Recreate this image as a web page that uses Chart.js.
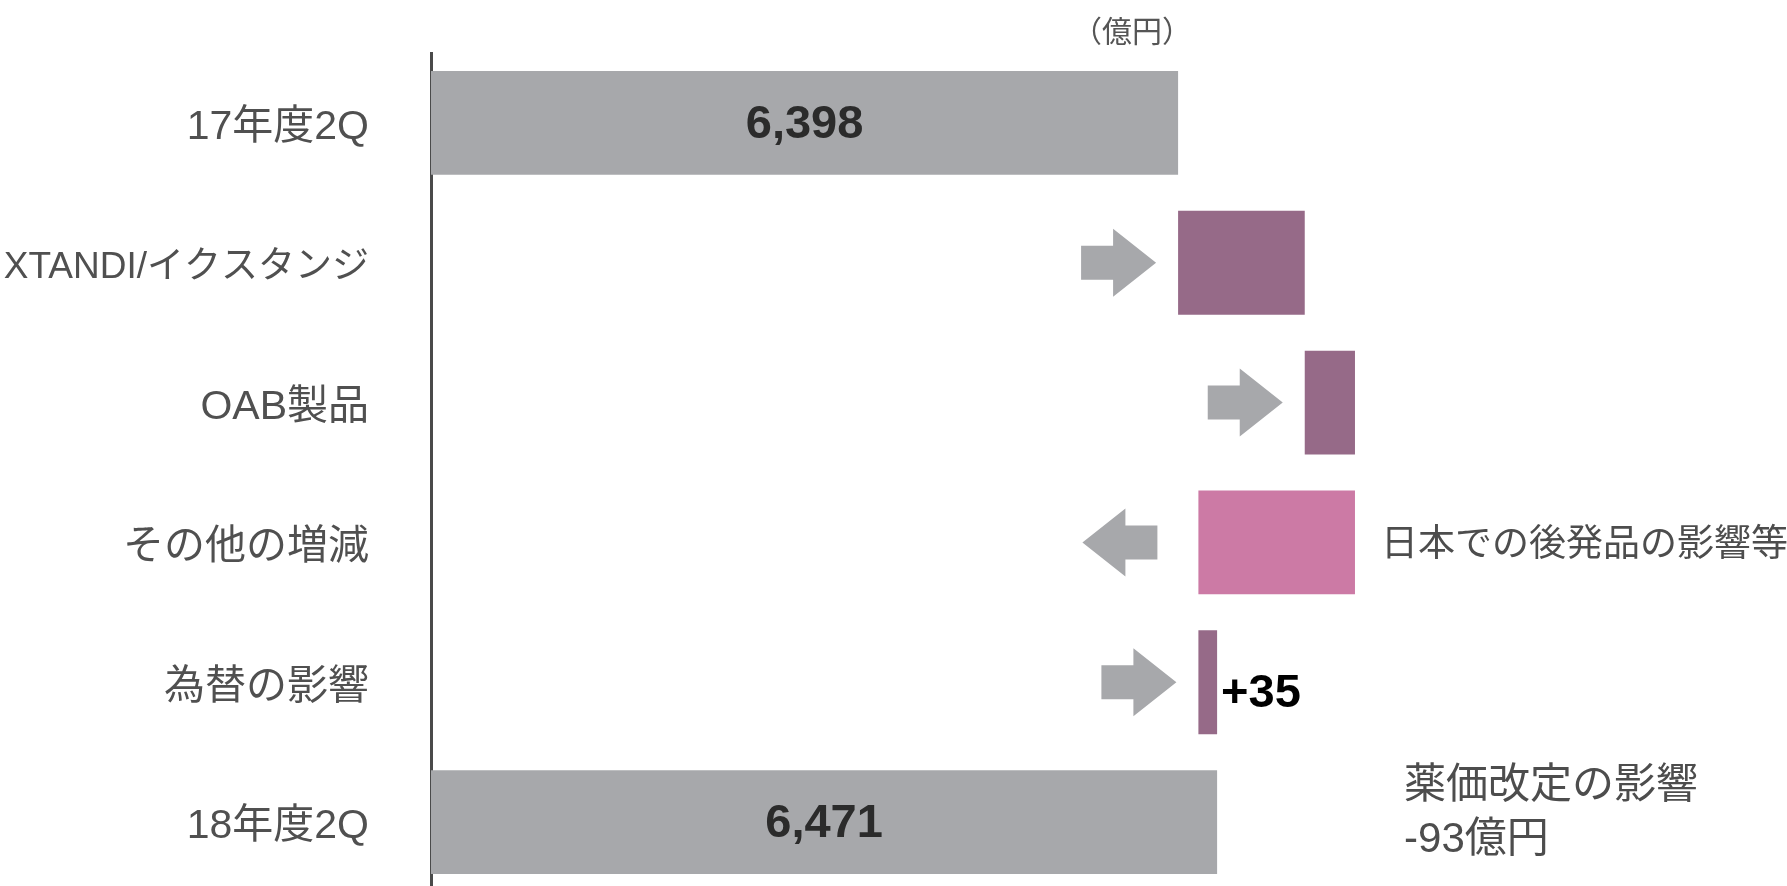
<!DOCTYPE html>
<html>
<head>
<meta charset="utf-8">
<script src="https://cdn.jsdelivr.net/npm/chart.js@4"></script>
<style>
    html, body { margin: 0; padding: 0; background: #fff; overflow: hidden; }
    #wrap { width: 1787px; height: 886px; overflow: hidden; }
</style>
</head>
<body>
<div id="wrap"><canvas id="bridge" width="1787" height="892"></canvas></div>
<script>
// Categorias e valores (億円)
const categories = ['17年度2Q', 'XTANDI/イクスタンジ', 'OAB製品', 'その他の増減', '為替の影響', '18年度2Q'];
const startTotal = 6398;
const endTotal = 6471;
const deltas = [237, 94, -293, 35]; // XTANDI, OAB, outros, câmbio
const barLabels = ['6,398', '', '', '', '+35', '6,471'];
const barColors = ['#a7a8ab', '#966a88', '#966a88', '#cc7aa5', '#966a88', '#a7a8ab'];
const axisMin = 5000;
const axisMax = 7500;
const unitLabel = '（億円）';
const noteOther = '日本での後発品の影響等';
const notePrice = ['薬価改定の影響', '-93億円'];

const LATIN_CJK = "'Liberation Sans', 'Noto Sans CJK JP', sans-serif";

// Monta as barras flutuantes da cascata
function buildRanges() {
    const ranges = [[axisMin, startTotal]];
    let running = startTotal;
    deltas.forEach(d => {
        ranges.push([running, running + d]);
        running += d;
    });
    ranges.push([axisMin, endTotal]);
    return ranges;
}

// Desenha uma seta de bloco
function drawArrow(ctx, left, cy, pointRight) {
    const shaft = 32, head = 43, shaftH = 34, headH = 68;
    ctx.beginPath();
    if (pointRight) {
        ctx.moveTo(left, cy - shaftH / 2);
        ctx.lineTo(left + shaft, cy - shaftH / 2);
        ctx.lineTo(left + shaft, cy - headH / 2);
        ctx.lineTo(left + shaft + head, cy);
        ctx.lineTo(left + shaft, cy + headH / 2);
        ctx.lineTo(left + shaft, cy + shaftH / 2);
        ctx.lineTo(left, cy + shaftH / 2);
    } else {
        ctx.moveTo(left, cy);
        ctx.lineTo(left + head, cy - headH / 2);
        ctx.lineTo(left + head, cy - shaftH / 2);
        ctx.lineTo(left + head + shaft, cy - shaftH / 2);
        ctx.lineTo(left + head + shaft, cy + shaftH / 2);
        ctx.lineTo(left + head, cy + shaftH / 2);
        ctx.lineTo(left + head, cy + headH / 2);
    }
    ctx.closePath();
    ctx.fillStyle = '#a7a8ab';
    ctx.fill();
}

const decorPlugin = {
    id: 'decor',
    afterDatasetsDraw(chart) {
        const ctx = chart.ctx;
        const bars = chart.getDatasetMeta(0).data;
        ctx.save();

        // setas das variações
        deltas.forEach((d, i) => {
            const bar = bars[i + 1];
            const left = Math.min(bar.x, bar.base);
            if (d >= 0) {
                drawArrow(ctx, left - 22 - 75, bar.y, true);
            } else {
                drawArrow(ctx, left - 41 - 75, bar.y, false);
            }
        });

        // rótulos das barras
        ctx.textBaseline = 'middle';
        ctx.font = 'bold 47px ' + LATIN_CJK;
        barLabels.forEach((txt, i) => {
            if (!txt) return;
            const bar = bars[i];
            if (i === 0 || i === bars.length - 1) {
                ctx.fillStyle = '#2b2b2b';
                ctx.textAlign = 'center';
                ctx.fillText(txt, (bar.x + bar.base) / 2, bar.y + 2);
            } else {
                ctx.fillStyle = '#000';
                ctx.textAlign = 'left';
                ctx.fillText(txt, Math.max(bar.x, bar.base) + 4, bar.y + 12);
            }
        });

        // unidade
        ctx.fillStyle = '#555';
        ctx.font = '30px ' + LATIN_CJK;
        ctx.textAlign = 'right';
        ctx.fillText(unitLabel, bars[0].x + 14, 34);

        // notas
        ctx.fillStyle = '#4d4d4d';
        ctx.textAlign = 'left';
        const other = bars[3];
        ctx.font = '37px ' + LATIN_CJK;
        ctx.fillText(noteOther, Math.max(other.x, other.base) + 26, other.y + 3);

        const last = bars[bars.length - 1];
        ctx.font = '42px ' + LATIN_CJK;
        ctx.fillText(notePrice[0], last.x + 187, last.y - 36);
        ctx.fillText(notePrice[1], last.x + 187, last.y + 18);

        ctx.restore();
    }
};

function drawBridge() {
    const ctx = document.getElementById('bridge').getContext('2d');
    new Chart(ctx, {
        type: 'bar',
        data: {
            labels: categories,
            datasets: [{
                data: buildRanges(),
                backgroundColor: barColors,
                borderWidth: 0,
                barPercentage: 0.742,
                categoryPercentage: 1
            }]
        },
        options: {
            indexAxis: 'y',
            responsive: false,
            devicePixelRatio: 1,
            animation: false,
            layout: { padding: { top: 53, right: 20, left: 0, bottom: 0 } },
            plugins: {
                legend: { display: false },
                tooltip: { enabled: false }
            },
            scales: {
                x: {
                    display: false,
                    min: axisMin,
                    max: axisMax
                },
                y: {
                    grid: { display: false, drawTicks: false },
                    border: { display: true, color: '#4a4a4a', width: 3 },
                    ticks: {
                        color: '#505050',
                        padding: 62,
                        labelOffset: 5,
                        font: c => ({ size: c.index === 1 ? 37 : 41, family: LATIN_CJK })
                    },
                    afterFit: scale => {
                        scale.width = 431;
                        scale.paddingTop = 0;
                        scale.paddingBottom = 0;
                    }
                }
            }
        },
        plugins: [decorPlugin]
    });
}

document.addEventListener('DOMContentLoaded', drawBridge);
</script>
</body>
</html>
